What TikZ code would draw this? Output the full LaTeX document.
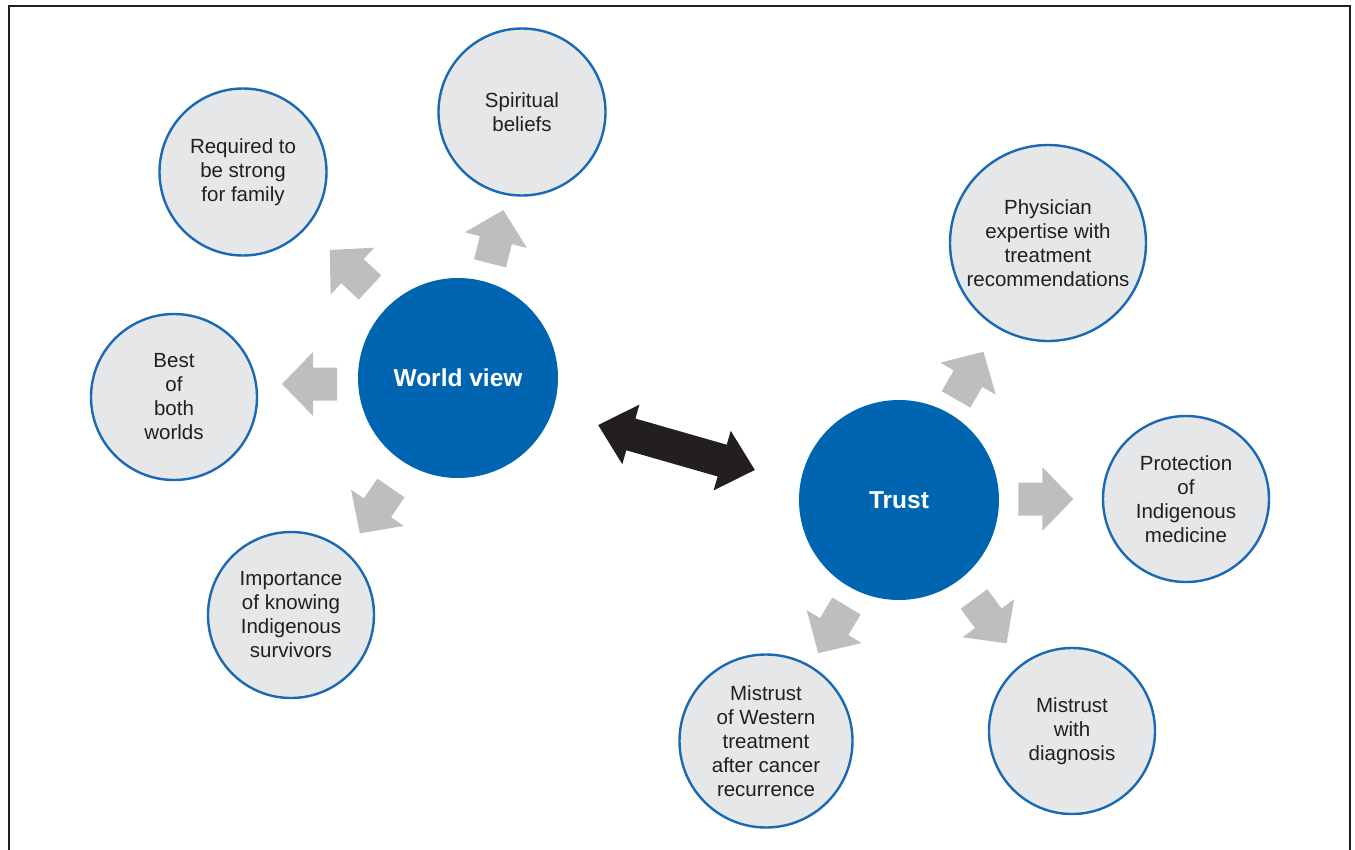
\documentclass[tikz,border=0pt]{standalone}
\usepackage{fontspec}
\setmainfont{Liberation Sans}
\definecolor{mainblue}{HTML}{0065B1}
\definecolor{ringblue}{HTML}{1A69B3}
\definecolor{subfill}{HTML}{E6E7E8}
\definecolor{arrgray}{HTML}{BCBEC0}
\definecolor{inkdark}{HTML}{231F20}
\begin{document}
\begin{tikzpicture}[x=1pt,y=-1pt,
  mainc/.style={circle,fill=mainblue,inner sep=0pt,minimum size=200pt,text=white,
    font=\fontsize{24.5}{29}\selectfont\bfseries},
  subc/.style={circle,draw=ringblue,line width=2.4pt,fill=subfill,inner sep=0pt,
    text=inkdark,align=center,font=\fontsize{20.5}{24}\selectfont},
  grayarrow/.style={fill=arrgray},
  blackarrow/.style={fill=inkdark},
  frameline/.style={draw=inkdark,line width=2pt}]
\useasboundingbox (0,0) rectangle (1355,849);
% frame
\draw[frameline] (8.5,852) -- (8.5,5.8) -- (1349.5,5.8) -- (1349.5,852);
% main circles
\node[mainc] (wv) at (458,378) {World view};
\node[mainc] (tr) at (899,500) {Trust};
% sub circles
\node[subc,minimum size=167pt] (spir) at (522,112) {Spiritual\\beliefs};
\node[subc,minimum size=167pt] (strong) at (243,172) {Required to\\be strong\\for family};
\node[subc,minimum size=166pt] (best) at (174,397) {Best\\of\\both\\worlds};
\node[subc,minimum size=166pt] (surv) at (291,615) {Importance\\of knowing\\Indigenous\\survivors};
\node[subc,minimum size=196pt] (phys) at (1048,243) {Physician\\expertise with\\treatment\\recommendations};
\node[subc,minimum size=166pt] (prot) at (1186,499) {Protection\\of\\Indigenous\\medicine};
\node[subc,minimum size=166pt] (diag) at (1072,731) {Mistrust\\with\\diagnosis};
\node[subc,minimum size=173pt] (west) at (766,741) {Mistrust\\of Western\\treatment\\after cancer\\recurrence};
% gray block arrows (tail centre, visual angle)
\foreach \p/\a in {{337,384}/180, {370,287.5}/137, {490,263.4}/76, {391,488}/235.5,
                   {956,399.4}/60, {1018.3,499}/0, {974,599}/-53.6, {846.5,606}/239}{
  \fill[grayarrow,shift={(\p)},rotate=\a]
    (0,16.5) -- (24,16.5) -- (24,32) -- (55,0) -- (24,-32) -- (24,-16.5) -- (0,-16.5) -- cycle;
}
% black double arrow between the two themes
\fill[blackarrow,shift={(676.5,447.5)},rotate=-16]
  (-81.5,0) -- (-47.5,31) -- (-47.5,16.5) -- (47.5,16.5) -- (47.5,31) -- (81.5,0)
  -- (47.5,-31) -- (47.5,-16.5) -- (-47.5,-16.5) -- (-47.5,-31) -- cycle;
\end{tikzpicture}
\end{document}
